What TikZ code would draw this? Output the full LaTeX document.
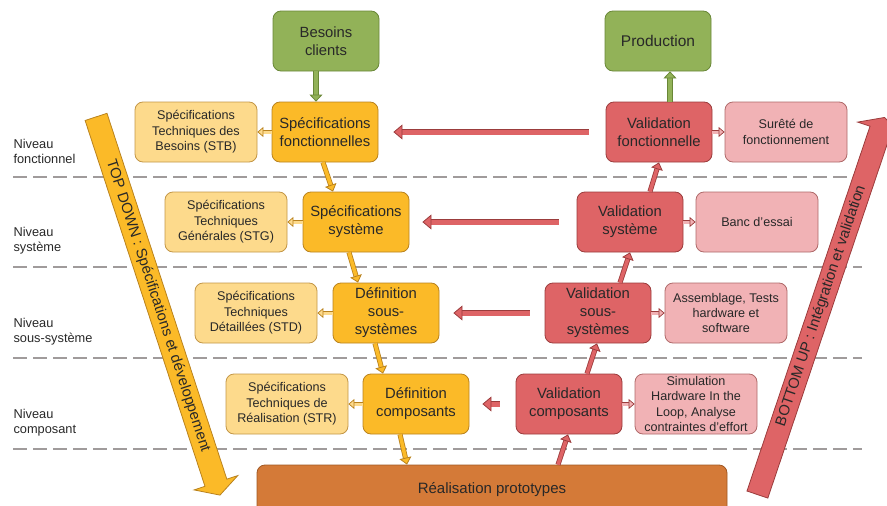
\documentclass[tikz,border=0pt]{standalone}
\usepackage{fontspec}
\setmainfont{Liberation Sans}
\usetikzlibrary{arrows.meta}

\definecolor{vert}{RGB}{146,178,88}
\definecolor{vertfonce}{RGB}{105,135,55}
\definecolor{orangec}{RGB}{251,186,40}
\definecolor{orangefonce}{RGB}{185,130,30}
\definecolor{jaune}{RGB}{253,218,140}
\definecolor{jaunefonce}{RGB}{195,150,70}
\definecolor{rouge}{RGB}{222,100,102}
\definecolor{rougefonce}{RGB}{155,60,60}
\definecolor{rose}{RGB}{241,178,181}
\definecolor{rosefonce}{RGB}{175,105,105}
\definecolor{brun}{RGB}{212,122,56}
\definecolor{brunfonce}{RGB}{160,88,35}
\definecolor{texte}{RGB}{40,40,40}
\definecolor{tirets}{RGB}{160,155,155}

\begin{document}
\begin{tikzpicture}[x=1pt, y=-1pt,
    box/.style={rounded corners=8pt, line width=0.8pt, align=center, text=texte, inner sep=1pt},
    besoin/.style={box, fill=vert, draw=vertfonce, minimum width=106pt, minimum height=60pt, font=\fontsize{14.8}{18}\selectfont},
    spec/.style={box, fill=orangec, draw=orangefonce, minimum width=106pt, minimum height=60pt, font=\fontsize{14.8}{18}\selectfont},
    valid/.style={box, fill=rouge, draw=rougefonce, minimum width=106pt, minimum height=60pt, font=\fontsize{14.8}{18}\selectfont},
    doc/.style={box, fill=jaune, draw=jaunefonce, minimum width=122pt, minimum height=60pt, font=\fontsize{12.6}{15.4}\selectfont},
    essai/.style={box, fill=rose, draw=rosefonce, minimum width=122pt, minimum height=60pt, font=\fontsize{12.6}{15.2}\selectfont},
    niveau/.style={draw=tirets, line width=1.2pt, dash pattern=on 14pt off 6pt},
    lab/.style={anchor=west, align=left, text=texte, font=\fontsize{12.8}{15}\selectfont},
    flvert/.style={draw=vertfonce, double=vert, double distance=3.5pt, line width=0.8pt,
        -{Triangle[length=7pt, width=13pt, fill=vert, line width=0.8pt]}},
    florange/.style={draw=orangefonce, double=orangec, double distance=3.5pt, line width=0.8pt,
        -{Triangle[length=7pt, width=12pt, fill=orangec, line width=0.8pt]}},
    flup/.style={draw=rougefonce, double=rouge, double distance=3.5pt, line width=0.8pt,
        -{Triangle[length=7pt, width=12pt, fill=rouge, line width=0.8pt]}},
    flrouge/.style={draw=rougefonce, double=rouge, double distance=5pt, line width=0.8pt,
        -{Triangle[length=9pt, width=15pt, fill=rouge, line width=0.8pt]}},
    fljaune/.style={draw=orangefonce, double=jaune, double distance=3pt, line width=0.7pt,
        -{Triangle[length=6pt, width=10pt, fill=jaune, line width=0.7pt]}},
    flrose/.style={draw=rougefonce, double=rose, double distance=3pt, line width=0.7pt,
        -{Triangle[length=6pt, width=10pt, fill=rose, line width=0.7pt]}}]

    \useasboundingbox (0,0) rectangle (887,506);

    \draw[niveau] (13,177) -- (862,177);
    \draw[niveau] (13,267) -- (862,267);
    \draw[niveau] (13,358) -- (862,358);
    \draw[niveau] (13,449) -- (862,449);

    \node[lab] (n1) at (10,151) {Niveau\\fonctionnel};
    \node[lab] (n2) at (10,241) {Niveau\\système};
    \node[lab] (n3) at (10,332) {Niveau\\sous-système};
    \node[lab] (n4) at (10,423) {Niveau\\composant};

    \begin{scope}[shift={(158,306)}, rotate=-71.86]
        \draw[fill=orangec, draw=orangefonce, line width=0.8pt]
            (-199,-11.5) -- (186,-11.5) -- (186,-23) -- (199,0) -- (186,23) -- (186,11.5) -- (-199,11.5) -- cycle;
        \node[transform shape, text=texte, font=\fontsize{14.8}{18}\selectfont] (td) at (0,0)
            {TOP DOWN : Spécifications et développement};
    \end{scope}

    \begin{scope}[shift={(821,306)}, rotate=71.36]
        \draw[fill=rouge, draw=rougefonce, line width=0.8pt]
            (-199,-11) -- (186,-11) -- (186,-24) -- (199,0) -- (186,24) -- (186,11) -- (-199,11) -- cycle;
        \node[transform shape, text=texte, font=\fontsize{14.8}{18}\selectfont] (bu) at (0,0)
            {BOTTOM UP : Intégration et validation};
    \end{scope}

    \node[besoin] (bc) at (326,41) {Besoins\\clients};
    \node[besoin, font=\fontsize{15.5}{18}\selectfont] (prod) at (658,41) {Production};

    \node[spec] (sf) at (325,132) {Spécifications\\fonctionnelles};
    \node[spec] (ss) at (356,222) {Spécifications\\système};
    \node[spec] (dss) at (386,313) {Définition\\sous-\\systèmes};
    \node[spec] (dc) at (416,404) {Définition\\composants};

    \node[doc] (stb) at (196,132) {Spécifications\\Techniques des\\Besoins (STB)};
    \node[doc] (stg) at (226,222) {Spécifications\\Techniques\\Générales (STG)};
    \node[doc] (std) at (256,313) {Spécifications\\Techniques\\Détaillées (STD)};
    \node[doc] (str) at (287,404) {Spécifications\\Techniques de\\Réalisation (STR)};

    \node[valid] (vf) at (659,132) {Validation\\fonctionnelle};
    \node[valid] (vs) at (630,222) {Validation\\système};
    \node[valid] (vss) at (598,313) {Validation\\sous-\\systèmes};
    \node[valid] (vc) at (569,404) {Validation\\composants};

    \node[essai] (sur) at (786,132) {Surêté de\\fonctionnement};
    \node[essai] (banc) at (757,222) {Banc d’essai};
    \node[essai] (ass) at (726,313) {Assemblage, Tests\\hardware et\\software};
    \node[essai, inner ysep=0pt] (sim) at (696,404) {Simulation\\Hardware In the\\Loop, Analyse\\contraintes d’effort};

    \node[box, fill=brun, draw=brunfonce, minimum width=470pt, minimum height=50pt,
        font=\fontsize{15}{18}\selectfont] (rp) at (492,490) {Réalisation prototypes};

    \draw[flvert] ([xshift=-10pt]bc.south) -- ([xshift=-9pt]sf.north);
    \draw[flvert] ([xshift=11pt]vf.north) -- ([xshift=12pt]prod.south);

    \draw[florange] ([xshift=-2pt]sf.south) -- ([xshift=-23pt]ss.north);
    \draw[florange] ([xshift=-7pt]ss.south) -- ([xshift=-28pt]dss.north);
    \draw[florange] ([xshift=-11pt]dss.south) -- ([xshift=-33pt]dc.north);
    \draw[florange] ([xshift=-16pt]dc.south) -- ([xshift=-85pt]rp.north);

    \draw[flup] ([xshift=66pt]rp.north) -- ([xshift=-1pt]vc.south);
    \draw[flup] ([xshift=18pt]vc.north) -- ([xshift=-1pt]vss.south);
    \draw[flup] ([xshift=22pt]vss.north) -- (vs.south);
    \draw[flup] ([xshift=20pt]vs.north) -- (vf.south);

    \draw[fljaune] (sf) -- (stb);
    \draw[fljaune] (ss) -- (stg);
    \draw[fljaune] (dss) -- (std);
    \draw[fljaune] (dc) -- (str);

    \draw[flrose] (vf) -- (sur);
    \draw[flrose] (vs) -- (banc);
    \draw[flrose] (vss) -- (ass);
    \draw[flrose] (vc) -- (sim);

    \draw[flrouge, shorten <=17pt, shorten >=15pt] (vf) -- (sf);
    \draw[flrouge, shorten <=18pt, shorten >=13pt] (vs) -- (ss);
    \draw[flrouge, shorten <=15pt, shorten >=14pt] (vss) -- (dss);
    \draw[flrouge, shorten <=16pt, shorten >=13pt] (vc) -- (dc);
\end{tikzpicture}
\end{document}
